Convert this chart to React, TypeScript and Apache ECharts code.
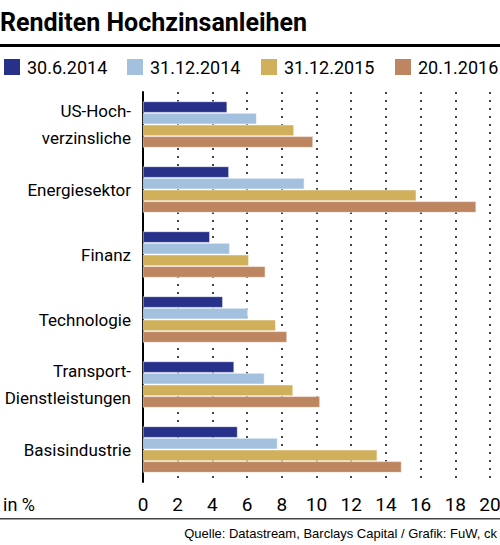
import React, { useEffect, useRef } from 'react';
import * as echarts from 'echarts';

const categories = [
  'US-Hoch-\nverzinsliche',
  'Energiesektor',
  'Finanz',
  'Technologie',
  'Transport-\nDienstleistungen',
  'Basisindustrie',
];

const seriesNames = ['30.6.2014', '31.12.2014', '31.12.2015', '20.1.2016'];
const seriesColors = ['#27318a', '#a3c1de', '#d1b05c', '#bd8661'];

const jun2014 = [4.85, 4.95, 3.85, 4.6, 5.25, 5.45];
const dec2014 = [6.55, 9.3, 5.0, 6.05, 7.0, 7.75];
const dec2015 = [8.7, 15.75, 6.1, 7.65, 8.65, 13.5];
const jan2016 = [9.8, 19.2, 7.05, 8.3, 10.2, 14.9];

const xTicks = [0, 2, 4, 6, 8, 10, 12, 14, 16, 18, 20];

// legend item left positions, one legend per series
const legendLefts = [2, 125, 259, 393];

const narrow = 'Roboto, sans-serif';

const App: React.FC = () => {
  const chartRef = useRef<HTMLDivElement>(null);

  useEffect(() => {
    const chart = echarts.init(chartRef.current, null, { renderer: 'svg' });
    const values = [jun2014, dec2014, dec2015, jan2016];

    const option = {
      animation: false,
      backgroundColor: '#fff',
      legend: seriesNames.map((name, i) => ({
        left: legendLefts[i],
        top: 57,
        padding: 0,
        icon: 'rect',
        itemWidth: 18,
        itemHeight: 18,
        textStyle: { fontFamily: narrow, fontSize: 18, color: '#000', padding: [0, 0, 0, 1] },
        data: [name],
      })),
      grid: { left: 143, top: 92, width: 347, height: 390, outerBoundsMode: 'none' },
      xAxis: {
        type: 'value',
        min: xTicks[0],
        max: xTicks[xTicks.length - 1],
        interval: 2,
        axisLine: { show: false },
        axisTick: { show: false },
        axisLabel: { fontFamily: narrow, fontSize: 19, color: '#000', margin: 13 },
        splitLine: {
          show: true,
          lineStyle: { color: '#444', width: 2, type: [2, 6] },
        },
      },
      yAxis: {
        type: 'category',
        inverse: true,
        data: categories,
        axisLine: { show: true, lineStyle: { color: '#000', width: 2 } },
        axisTick: { show: false },
        axisLabel: {
          fontFamily: narrow,
          fontSize: 17,
          lineHeight: 27,
          color: '#000',
          margin: 12,
          align: 'right',
        },
      },
      series: seriesNames.map((name, i) => ({
        name,
        type: 'bar',
        data: values[i],
        barCategoryGap: '29%',
        barGap: '4%',
        itemStyle: { color: seriesColors[i], borderColor: '#fff', borderWidth: 0.5 },
        z: 3,
      })),
      graphic: [
        {
          type: 'text',
          left: 0,
          top: 10,
          style: {
            text: 'Renditen Hochzinsanleihen',
            fontFamily: narrow,
            fontWeight: 'bold',
            fontSize: 25,
            fill: '#000',
          },
        },
        {
          type: 'rect',
          shape: { x: 0, y: 44, width: 500, height: 3 },
          style: { fill: '#000' },
        },
        {
          type: 'text',
          left: 3,
          top: 495,
          style: { text: 'in %', fontFamily: narrow, fontSize: 18, fill: '#000' },
        },
        {
          type: 'rect',
          shape: { x: 0, y: 518, width: 500, height: 1.5 },
          style: { fill: '#444' },
        },
        {
          type: 'text',
          right: 3,
          top: 527,
          style: {
            text: 'Quelle: Datastream, Barclays Capital / Grafik: FuW, ck',
            fontFamily: '"Liberation Sans", sans-serif',
            fontSize: 13,
            fill: '#000',
          },
        },
      ],
    };

    chart.setOption(option);
    return () => {
      chart.dispose();
    };
  }, []);

  return (
    <div
      ref={chartRef}
      style={{ position: 'fixed', left: 0, top: 0, width: '500px', height: '545px' }}
    />
  );
};

export default App;
